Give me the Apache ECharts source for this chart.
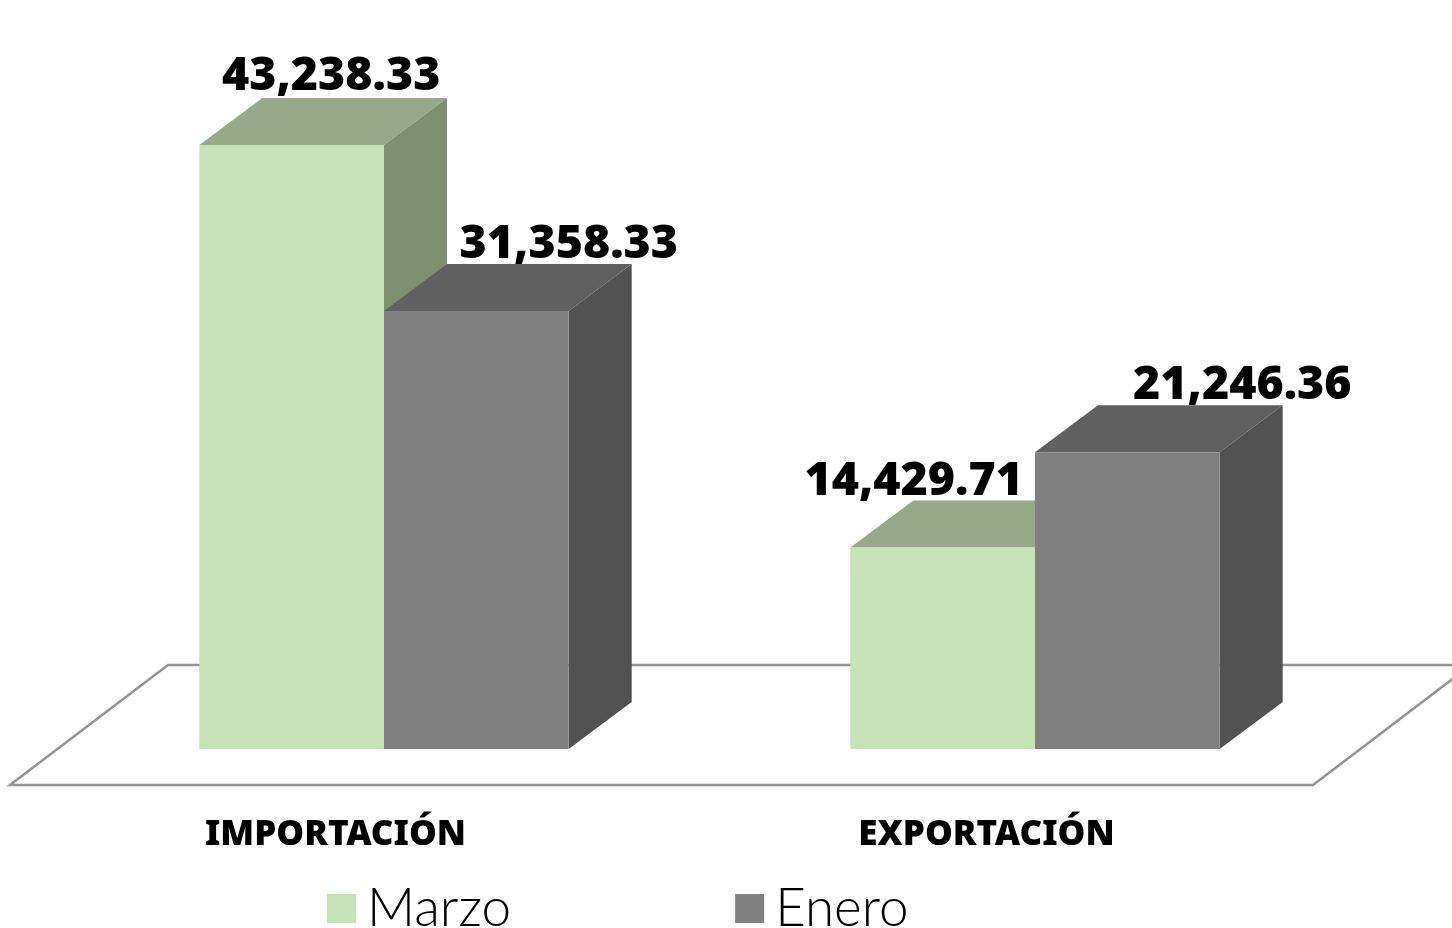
<!DOCTYPE html>
<html>
<head>
<meta charset="utf-8">
<style>
  html, body { margin: 0; padding: 0; background: #fff; overflow: hidden; }
  #chart { width: 1452px; height: 928px; }
</style>
<script src="https://cdn.jsdelivr.net/npm/echarts@6/dist/echarts.min.js"></script>
</head>
<body>
<div id="chart"></div>
<script>
var categories = ['IMPORTACIÓN', 'EXPORTACIÓN'];
var marzo = [43238.33, 14429.71];
var enero = [31358.33, 21246.36];

var font = '"Noto Sans", sans-serif';
var depthX = 63, depthY = 47;
var barRatio = 0.2837;

function fmt(v) {
  return v.toLocaleString('en-US', { minimumFractionDigits: 2, maximumFractionDigits: 2 });
}

// draws one 3d bar; side is -1 (left of the category centre) or 0
function barRenderer(side, topColor, sideColor, labelDx, labelDy) {
  return function(params, api) {
    var idx = api.value(0);
    var val = api.value(1);
    var top = api.coord([idx, val]);
    var base = api.coord([idx, 0]);
    var w = api.size([1, 0])[0] * barRatio;
    var x0 = top[0] + side * w;
    var x1 = x0 + w;
    var y0 = top[1];
    var y1 = base[1];
    return {
      type: 'group',
      children: [{
        type: 'polygon',
        shape: { points: [[x0, y0], [x1, y0], [x1 + depthX, y0 - depthY], [x0 + depthX, y0 - depthY]] },
        style: { fill: topColor }
      }, {
        type: 'polygon',
        shape: { points: [[x1, y0], [x1 + depthX, y0 - depthY], [x1 + depthX, y1 - depthY], [x1, y1]] },
        style: { fill: sideColor }
      }, {
        type: 'rect',
        shape: { x: x0, y: y0, width: w, height: y1 - y0 },
        style: { fill: api.visual('color') }
      }, {
        type: 'text',
        z2: 10,
        style: {
          x: x0 + w / 2 + labelDx[idx],
          y: y0 + labelDy[idx],
          text: fmt(val),
          fill: '#000',
          font: '900 46.5px ' + font,
          align: 'center',
          verticalAlign: 'middle'
        }
      }]
    };
  };
}

function floorRenderer(params, api) {
  var a = api.coord([0, 0]);
  var b = api.coord([1, 0]);
  var y = a[1] + 36;
  return {
    type: 'polygon',
    shape: { points: [[a[0] - 374, y], [b[0] + 278, y], [b[0] + 436, y - 120], [a[0] - 216, y - 120]] },
    style: { fill: 'none', stroke: '#949494', lineWidth: 2.5 }
  };
}

var myChart = echarts.init(document.getElementById('chart'));
var option = {
  animation: false,
  backgroundColor: '#ffffff',
  grid: { left: 58.5, right: 91.5, top: 50.5, bottom: 179 },
  legend: {
    data: ['Marzo', 'Enero'],
    left: 322,
    top: 877,
    icon: 'rect',
    itemWidth: 29,
    itemHeight: 29,
    itemGap: 224,
    textStyle: { fontFamily: 'Lato, sans-serif', fontWeight: 300, fontSize: 53, color: '#000', padding: [0, 0, 0, 6] }
  },
  xAxis: {
    type: 'category',
    data: categories,
    axisLine: { show: false },
    axisTick: { show: false },
    axisLabel: {
      color: '#000',
      fontFamily: font,
      fontWeight: 900,
      fontSize: 35,
      margin: 69,
      padding: [0, 97, 0, 0]
    }
  },
  yAxis: {
    type: 'value',
    min: 0,
    max: 50000,
    show: false
  },
  series: [{
    name: 'floor',
    type: 'custom',
    z: 1,
    silent: true,
    clip: false,
    renderItem: floorRenderer,
    data: [[0, 0]]
  }, {
    name: 'Marzo',
    type: 'custom',
    z: 2,
    clip: false,
    itemStyle: { color: '#C6E2B6' },
    renderItem: barRenderer(-1, '#96AA8A', '#7E8F72', [39.5, -29], [-68, -66]),
    encode: { x: 0, y: 1 },
    data: marzo.map(function(v, i) { return [i, v]; })
  }, {
    name: 'Enero',
    type: 'custom',
    z: 3,
    clip: false,
    itemStyle: { color: '#808080' },
    renderItem: barRenderer(0, '#606060', '#525252', [92.5, 115], [-66, -66]),
    encode: { x: 0, y: 1 },
    data: enero.map(function(v, i) { return [i, v]; })
  }]
};
myChart.setOption(option);
</script>
</body>
</html>
